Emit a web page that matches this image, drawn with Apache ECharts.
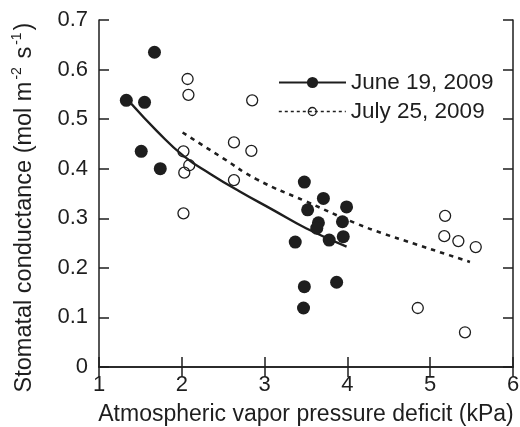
<!DOCTYPE html>
<html>
<head>
<meta charset="utf-8">
<script src="https://cdn.jsdelivr.net/npm/echarts@6/dist/echarts.min.js"></script>
<style>
    html, body { margin: 0; padding: 0; background: #fff; }
    #chart { width: 520px; height: 427px; }
</style>
</head>
<body>
<div id="chart"></div>
<script>
// June 19, 2009 (filled circles)
const juneVpd = [1.33, 1.55, 1.67, 1.51, 1.74, 3.48, 3.71, 3.52, 3.99, 3.65, 3.63, 3.94, 3.95, 3.78, 3.37, 3.48, 3.87, 3.47];
const juneGs  = [0.538, 0.534, 0.635, 0.435, 0.400, 0.373, 0.340, 0.317, 0.323, 0.291, 0.280, 0.293, 0.263, 0.256, 0.252, 0.162, 0.171, 0.119];

// July 25, 2009 (open circles)
const julyVpd = [2.07, 2.08, 2.85, 2.63, 2.84, 2.02, 2.09, 2.03, 2.63, 2.02, 5.18, 5.17, 5.34, 5.55, 4.85, 5.42];
const julyGs  = [0.581, 0.549, 0.538, 0.453, 0.436, 0.435, 0.407, 0.392, 0.377, 0.310, 0.305, 0.264, 0.254, 0.242, 0.119, 0.070];

// fitted curves
const juneFitVpd = [1.39, 1.70, 2.02, 2.35, 2.70, 3.10, 3.50, 3.99];
const juneFitGs  = [0.531, 0.476, 0.426, 0.389, 0.354, 0.317, 0.280, 0.243];
const julyFitVpd = [2.01, 2.50, 2.90, 3.50, 4.10, 4.42, 4.80, 5.48];
const julyFitGs  = [0.473, 0.421, 0.379, 0.334, 0.290, 0.270, 0.249, 0.212];

const xTicks = [1, 2, 3, 4, 5, 6];
const yTicks = [0, 0.1, 0.2, 0.3, 0.4, 0.5, 0.6, 0.7];

const ink = '#1e1e1e';
const font = '"Liberation Sans", Arial, Helvetica, sans-serif';

const pairs = (xs, ys) => xs.map((x, i) => [x, ys[i]]);

const chart = echarts.init(document.getElementById('chart'));

const frameAxis = {
    axisLine: { show: true, lineStyle: { color: ink, width: 1.5 } },
    axisTick: { show: true, inside: true, length: 10, lineStyle: { color: ink, width: 1.5 } },
    splitLine: { show: false }
};

const options = {
    animation: false,
    backgroundColor: '#fff',
    textStyle: { fontFamily: font, color: ink },
    grid: { left: 99, right: 7, top: 20, bottom: 60, containLabel: false, outerBoundsMode: 'none' },
    legend: [{
        left: 278, top: 71, padding: 0, orient: 'vertical',
        itemWidth: 67, itemHeight: 14, selectedMode: false,
        textStyle: { fontFamily: font, fontSize: 22.5, color: ink },
        data: [{
            name: 'June 19, 2009',
            itemStyle: { color: ink, borderWidth: 0 },
            lineStyle: { color: ink, width: 2, type: 'solid' }
        }]
    }, {
        left: 278, top: 100, padding: 0, orient: 'vertical',
        itemWidth: 67, itemHeight: 10, selectedMode: false,
        textStyle: { fontFamily: font, fontSize: 22.5, color: ink },
        data: [{
            name: 'July 25, 2009',
            itemStyle: { color: 'rgba(0,0,0,0)', borderColor: ink, borderWidth: 1.3 },
            lineStyle: { color: ink, width: 1.6, type: [3, 3] }
        }]
    }],
    xAxis: [Object.assign({
        type: 'value', position: 'bottom',
        min: xTicks[0], max: xTicks[xTicks.length - 1], interval: 1,
        name: 'Atmospheric vapor pressure deficit (kPa)',
        nameLocation: 'middle', nameGap: 36,
        nameTextStyle: { fontFamily: font, fontSize: 23, color: ink },
        axisLabel: { margin: 7, fontFamily: font, fontSize: 22, color: ink }
    }, frameAxis), Object.assign({
        type: 'value', position: 'top',
        min: xTicks[0], max: xTicks[xTicks.length - 1], interval: 1,
        axisLabel: { show: false }
    }, frameAxis)],
    yAxis: [Object.assign({
        type: 'value', position: 'left',
        min: yTicks[0], max: yTicks[yTicks.length - 1], interval: 0.1,
        name: '{a|Stomatal conductance (mol m}{s|-2}{a| s}{s|-1}{a|)}',
        nameLocation: 'middle', nameRotate: 90, nameGap: 62,
        nameTextStyle: {
            padding: [0, 28, 0, 0],
            rich: {
                a: { fontFamily: font, fontSize: 23.5, color: ink, verticalAlign: 'bottom' },
                s: { fontFamily: font, fontSize: 14, color: ink, verticalAlign: 'bottom', padding: [0, 2, 13, 2] }
            }
        },
        axisLabel: { margin: 11, padding: [0, 0, 10, 0], fontFamily: font, fontSize: 22, color: ink }
    }, frameAxis), Object.assign({
        type: 'value', position: 'right',
        min: yTicks[0], max: yTicks[yTicks.length - 1], interval: 0.1,
        axisLabel: { show: false }
    }, frameAxis)],
    series: [{
        name: 'June 19, 2009',
        type: 'line',
        smooth: true,
        symbol: 'circle',
        showSymbol: false,
        itemStyle: { color: ink },
        lineStyle: { color: ink, width: 2.4, type: 'solid' },
        data: pairs(juneFitVpd, juneFitGs),
        z: 2
    }, {
        name: 'July 25, 2009',
        type: 'line',
        smooth: true,
        symbol: 'circle',
        showSymbol: false,
        itemStyle: { color: 'rgba(0,0,0,0)', borderColor: ink },
        lineStyle: { color: ink, width: 2.6, type: [4.5, 5] },
        data: pairs(julyFitVpd, julyFitGs),
        z: 2
    }, {
        name: 'June points',
        type: 'scatter',
        symbol: 'circle',
        symbolSize: 13,
        itemStyle: { color: ink, opacity: 1 },
        data: pairs(juneVpd, juneGs),
        z: 3
    }, {
        name: 'July points',
        type: 'scatter',
        symbol: 'circle',
        symbolSize: 11,
        itemStyle: { color: 'rgba(0,0,0,0)', borderColor: ink, borderWidth: 1.3, opacity: 1 },
        data: pairs(julyVpd, julyGs),
        z: 3
    }]
};

chart.setOption(options);
window.addEventListener('resize', () => chart.resize());
</script>
</body>
</html>
